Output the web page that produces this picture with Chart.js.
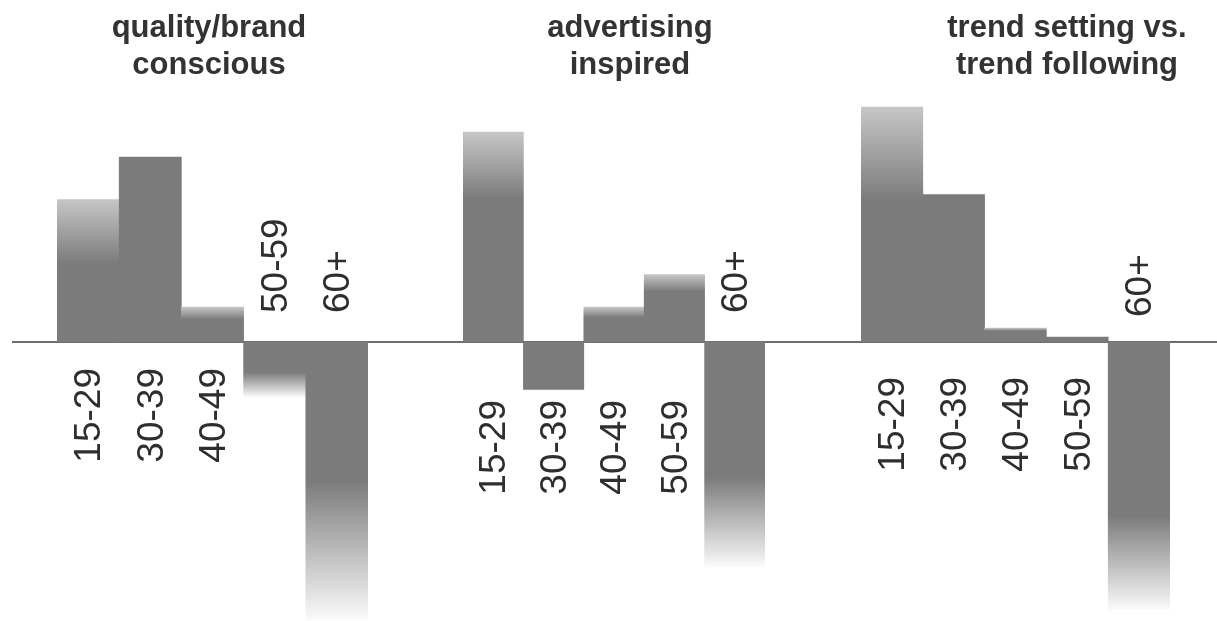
<!DOCTYPE html>
<html>
<head>
<meta charset="utf-8">
<script src="https://cdn.jsdelivr.net/npm/chart.js@4.4.1/dist/chart.umd.min.js"></script>
<style>
  body { margin: 0; background: #fff; }
  #wrap { position: relative; width: 1217px; height: 621px; overflow: hidden; }
  #wrap canvas { position: absolute; top: 0; }
  .ttl {
    position: absolute; top: 8px; width: 400px; z-index: 2;
    font: bold 31px "Liberation Sans", Arial, sans-serif;
    line-height: 37px; color: #333; text-align: center;
  }
</style>
</head>
<body>
<div id="wrap">
  <canvas id="c1" width="415" height="621" style="left:0px"></canvas>
  <canvas id="c2" width="397" height="621" style="left:415px"></canvas>
  <canvas id="c3" width="405" height="621" style="left:812px"></canvas>
  <div class="ttl" id="t1" style="left:9px"></div>
  <div class="ttl" id="t2" style="left:430px"></div>
  <div class="ttl" id="t3" style="left:867px"></div>
</div>
<script>
// data
const ageGroups = ['15-29', '30-39', '40-49', '50-59', '60+'];
const qualityBrand = [57, 74, 14, -22, -111];
const advertising = [84, -19, 14, 27, -90];
const trendSetting = [94, 59, 5.6, 2, -107];
const titles = [
  ['quality/brand', 'conscious'],
  ['advertising', 'inspired'],
  ['trend setting vs.', 'trend following']
];

const BAR_GREY = '#7b7b7b';

// how far the washed-out tip of each bar reaches (fraction of bar length)
const fades = [
  [0.45, 0, 0.35, 0.45, 0.5],
  [0.32, 0, 0.3, 0.25, 0.4],
  [0.4, 0, 0.2, 0, 0.35]
];

function barFill(fade) {
  return function (c) {
    const chart = c.chart;
    if (!chart.chartArea) return BAR_GREY;
    const f = fade[c.dataIndex];
    if (!f) return BAR_GREY;
    const v = c.raw;
    const tip = chart.scales.y.getPixelForValue(v);
    const base = chart.scales.y.getPixelForValue(0);
    const g = chart.ctx.createLinearGradient(0, tip, 0, base);
    g.addColorStop(0, v >= 0 ? '#c6c6c6' : '#fafafa');
    g.addColorStop(f, BAR_GREY);
    g.addColorStop(1, BAR_GREY);
    return g;
  };
}

// zero line across the whole canvas
const zeroLine = {
  id: 'zeroLine',
  beforeDatasetsDraw(chart, args, opts) {
    const {ctx, width} = chart;
    const y0 = chart.scales.y.getPixelForValue(0);
    ctx.save();
    ctx.strokeStyle = '#3c3c3c';
    ctx.lineWidth = 1.5;
    ctx.beginPath();
    ctx.moveTo(opts.from || 0, y0);
    ctx.lineTo(width, y0);
    ctx.stroke();
    ctx.restore();
  }
};

// rotated age labels: below the baseline unless the bar hangs down past them
const ageLabels = {
  id: 'ageLabels',
  afterDatasetsDraw(chart, args, opts) {
    const ctx = chart.ctx;
    const meta = chart.getDatasetMeta(0);
    const y0 = chart.scales.y.getPixelForValue(0);
    ctx.save();
    ctx.font = '37px "Liberation Sans", Arial, sans-serif';
    ctx.fillStyle = '#2e2e2e';
    ctx.textBaseline = 'middle';
    meta.data.forEach(function (bar, i) {
      const below = bar.y < y0 + opts.below - 8;
      ctx.save();
      ctx.translate(bar.x + 2, below ? y0 + opts.below : y0 - opts.above);
      ctx.rotate(-Math.PI / 2);
      ctx.textAlign = below ? 'right' : 'left';
      ctx.fillText(chart.data.labels[i], 0, 0);
      ctx.restore();
    });
    ctx.restore();
  }
};

function makePanel(id, values, fade, pad, labelOpts, lineFrom) {
  return new Chart(document.getElementById(id), {
    type: 'bar',
    data: {
      labels: ageGroups,
      datasets: [{
        data: values,
        backgroundColor: barFill(fade),
        borderWidth: 0,
        categoryPercentage: 1,
        barPercentage: 1
      }]
    },
    options: {
      responsive: false,
      animation: false,
      events: [],
      layout: { padding: { left: pad[0], right: pad[1], top: 0, bottom: 0 } },
      plugins: {
        legend: { display: false },
        tooltip: { enabled: false },
        zeroLine: { from: lineFrom },
        ageLabels: labelOpts
      },
      scales: {
        x: { display: false },
        y: { display: false, min: -111.6, max: 136.8 }
      }
    },
    plugins: [zeroLine, ageLabels]
  });
}

makePanel('c1', qualityBrand, fades[0], [57, 47], { below: 26, above: 29 }, 12);
makePanel('c2', advertising, fades[1], [48, 47], { below: 58, above: 29 }, 0);
makePanel('c3', trendSetting, fades[2], [49, 47], { below: 35, above: 25 }, 0);

['t1', 't2', 't3'].forEach(function (id, i) {
  document.getElementById(id).innerHTML = titles[i].join('<br>');
});
</script>
</body>
</html>
